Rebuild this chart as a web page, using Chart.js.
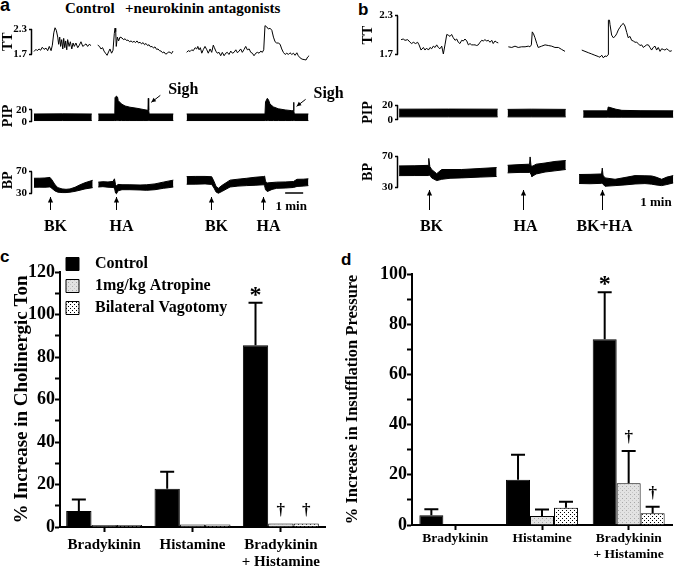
<!DOCTYPE html>
<html>
<head>
<meta charset="utf-8">
<script src="https://cdn.jsdelivr.net/npm/chart.js@4.4.1/dist/chart.umd.min.js"></script>
<style>
  body { margin: 0; background: #fff; }
  #fig { position: relative; width: 675px; height: 567px; overflow: hidden; font-family: "Liberation Serif", serif; font-weight: bold; color: #000; }
  #fig canvas { position: absolute; }
  .lbl { position: absolute; white-space: nowrap; line-height: 1; }
  .panel { font-family: "Liberation Sans", Arial, sans-serif; font-size: 17px; }
</style>
</head>
<body>
<div id="fig">
  <div class="lbl panel" style="left:0px;top:-4px;font-size:18px;">a</div>
  <div class="lbl panel" style="left:358px;top:1px;">b</div>
  <div class="lbl panel" style="left:0px;top:248px;">c</div>
  <div class="lbl panel" style="left:341px;top:251px;">d</div>
  <div class="lbl" style="left:65px;top:1px;font-size:15px;">Control</div>
  <div class="lbl" style="left:125px;top:1px;font-size:15px;">+neurokinin antagonists</div>

  <canvas id="ttA" width="310" height="56" style="left:0px;top:14px"></canvas>
  <canvas id="pipA" width="350" height="56" style="left:0px;top:78px"></canvas>
  <canvas id="bpA" width="310" height="95" style="left:0px;top:150px"></canvas>
  <canvas id="ttB" width="315" height="70" style="left:360px;top:0px"></canvas>
  <canvas id="pipB" width="315" height="40" style="left:360px;top:92px"></canvas>
  <canvas id="bpB" width="315" height="105" style="left:360px;top:140px"></canvas>
  <canvas id="chartC" width="338" height="317" style="left:0px;top:250px"></canvas>
  <canvas id="chartD" width="337" height="317" style="left:338px;top:250px"></canvas>
</div>
<script>
// ---- traces, time in minutes ----
// TT: [t, value]
const ttA = [
  [[0.11,1.77],[0.22,1.82],[0.29,1.79],[0.39,1.83],[0.48,1.80],[0.57,1.87],[0.67,1.82],[0.78,1.85],[0.87,1.79],[0.96,1.89],[1.06,1.79],[1.13,1.92],[1.21,2.21],[1.28,2.33],[1.35,2.27],[1.43,2.11],[1.48,1.94],[1.54,2.11],[1.59,1.89],[1.65,2.05],[1.71,1.83],[1.76,2.08],[1.82,1.86],[1.87,2.02],[1.93,1.81],[1.98,2.05],[2.06,1.89],[2.13,2.00],[2.21,1.83],[2.28,1.97],[2.35,1.89],[2.44,1.97],[2.54,1.86],[2.63,1.92],[2.72,2.00],[2.82,1.89],[2.91,1.92],[3.00,1.95],[3.09,1.89],[3.18,1.94],[3.28,1.91]],
  [[3.65,1.92],[3.75,1.89],[3.83,1.83],[3.92,1.86],[4.00,1.78],[4.08,1.73],[4.17,1.68],[4.25,1.76],[4.33,1.83],[4.42,1.73],[4.50,1.80],[4.57,2.19],[4.61,2.32],[4.65,2.24],[4.68,1.89],[4.74,2.11],[4.81,2.02],[4.89,2.11],[5.00,2.09],[5.08,2.05],[5.17,2.07],[5.25,2.03],[5.33,2.04],[5.42,2.00],[5.50,2.02],[5.58,1.99],[5.67,2.01],[5.75,1.98],[5.83,2.02],[5.92,1.97],[6.00,1.99],[6.08,1.95],[6.17,1.98],[6.25,1.93],[6.33,1.96],[6.42,1.91],[6.50,1.93],[6.58,1.88],[6.67,1.89],[6.75,1.85],[6.83,1.88],[6.92,1.82],[7.00,1.83],[7.08,1.79],[7.17,1.78],[7.25,1.74],[7.33,1.76],[7.42,1.71],[7.50,1.72],[7.58,1.76],[7.67,1.75],[7.75,1.72],[7.83,1.78]],
  [[8.59,1.75],[8.68,1.79],[8.78,1.77],[8.87,1.81],[8.96,1.79],[9.06,1.86],[9.15,1.83],[9.21,1.89],[9.28,1.81],[9.35,1.86],[9.43,1.73],[9.52,1.82],[9.61,1.89],[9.71,1.81],[9.79,1.73],[9.89,1.83],[9.98,1.75],[10.07,1.92],[10.13,1.86],[10.21,1.78],[10.29,1.73],[10.39,1.75],[10.48,1.67],[10.57,1.75],[10.67,1.67],[10.76,1.73],[10.85,1.75],[10.94,1.70],[11.04,1.78],[11.13,1.73],[11.22,1.75],[11.32,1.81],[11.41,1.74],[11.50,1.78],[11.59,1.83],[11.68,1.75],[11.78,1.82],[11.87,1.89],[11.96,1.81],[12.06,1.83],[12.15,1.75],[12.24,1.73],[12.33,1.67],[12.43,1.73],[12.52,1.75],[12.61,1.73],[12.71,1.78],[12.79,1.75],[12.87,1.81],[12.94,2.38],[13.04,2.35],[13.13,2.30],[13.22,2.32],[13.32,2.27],[13.41,2.11],[13.50,2.00],[13.59,1.97],[13.68,1.97],[13.78,1.94],[13.87,1.83],[13.96,1.75],[14.06,1.70],[14.15,1.73],[14.24,1.70],[14.33,1.74],[14.43,1.70],[14.52,1.73],[14.61,1.68],[14.71,1.74],[14.79,1.67],[14.89,1.62],[15.00,1.59],[15.11,1.58],[15.22,1.57],[15.31,1.64],[15.39,1.67]]
];
const ttB = [
  [[0.17,1.93],[0.29,1.94],[0.39,1.92],[0.54,1.93],[0.67,1.89],[0.76,1.87],[0.85,1.89],[0.98,1.87],[1.09,1.89],[1.17,1.85],[1.28,1.77],[1.41,1.81],[1.50,1.77],[1.59,1.80],[1.69,1.77],[1.78,1.81],[1.87,1.79],[1.96,1.83],[2.06,1.81],[2.15,1.85],[2.24,1.81],[2.33,1.79],[2.43,1.83],[2.52,1.71],[2.61,1.85],[2.71,2.01],[2.79,2.00],[2.89,1.98],[2.98,2.01],[3.07,1.96],[3.17,1.92],[3.26,1.94],[3.35,1.89],[3.44,1.87],[3.54,1.92],[3.63,1.91],[3.72,1.94],[3.82,1.91],[3.91,1.85],[4.00,1.87],[4.09,1.85],[4.18,1.85],[4.28,1.85],[4.37,1.84],[4.46,1.85],[4.56,1.89],[4.65,1.92],[4.74,1.91],[4.83,1.93],[4.93,1.91],[5.02,1.92],[5.11,1.89],[5.21,1.92],[5.29,1.87],[5.39,1.91],[5.48,1.89],[5.57,1.88]],
  [[6.13,1.82],[6.32,1.81],[6.50,1.83],[6.68,1.81],[6.87,1.82],[7.06,1.82],[7.24,1.83],[7.33,1.82],[7.41,1.85],[7.46,2.05],[7.53,2.02],[7.61,1.96],[7.71,1.87],[7.79,1.81],[7.98,1.83],[8.17,1.85],[8.35,1.84],[8.54,1.83],[8.72,1.81],[8.91,1.81],[9.09,1.78],[9.28,1.75]],
  [[10.21,1.77],[10.39,1.75],[10.57,1.73],[10.76,1.71],[10.94,1.69],[11.13,1.67],[11.22,1.66],[11.32,1.69],[11.41,1.65],[11.50,1.68],[11.59,1.67],[11.67,1.70],[11.69,2.23],[11.75,2.23],[11.78,2.16],[11.87,2.00],[11.96,1.96],[12.06,1.98],[12.15,2.02],[12.24,2.08],[12.33,2.12],[12.43,2.16],[12.52,2.18],[12.61,2.14],[12.71,2.04],[12.79,1.96],[12.89,1.98],[12.98,1.92],[13.07,1.91],[13.17,1.89],[13.26,1.89],[13.35,1.87],[13.44,1.84],[13.54,1.85],[13.63,1.81],[13.72,1.83],[13.82,1.85],[13.91,1.85],[14.00,1.81],[14.09,1.77],[14.18,1.81],[14.28,1.83],[14.37,1.77],[14.46,1.81],[14.56,1.75],[14.65,1.79],[14.74,1.78],[14.83,1.77],[14.93,1.79],[15.02,1.77],[15.11,1.75],[15.21,1.76]]
];
// PIP and BP bands: [t, low, high]
const pipA = [
  [[0.11,2.3,13.1],[1.70,2.3,13.3],[3.32,2.3,13.1]],
  [[3.68,2.3,13.1],[4.60,2.3,13.1],[4.61,2.3,40.0],[4.69,2.3,42.6],[4.75,2.3,41.0],[4.79,2.3,35.1],[4.98,2.3,29.4],[5.17,2.3,26.3],[5.44,2.3,24.3],[5.83,2.3,22.5],[6.17,2.3,20.6],[6.44,2.3,19.1],[6.46,2.3,38.9],[6.48,2.3,19.0],[6.51,2.3,13.1],[7.85,2.3,13.1]],
  [[8.59,2.3,13.1],[12.94,2.3,13.1],[12.97,2.3,33.0],[13.07,2.3,38.9],[13.14,2.3,36.0],[13.22,2.3,29.4],[13.41,2.3,24.8],[13.68,2.3,21.7],[14.06,2.3,19.8],[14.43,2.3,18.6],[14.52,2.3,18.4],[14.53,2.3,32.3],[14.55,2.3,18.2],[14.57,2.3,13.1],[15.35,2.3,13.1]]
];
const bpA = [
  [[0.11,41.4,57.7],[0.44,41.6,57.8],[0.72,41.4,58.2],[1.00,42.1,59.2],[1.11,39.2,54.7],[1.28,34.7,45.9],[1.44,32.5,40.7],[1.67,31.8,38.4],[1.89,31.8,37.7],[2.11,32.5,38.4],[2.39,34.0,41.4],[2.67,36.2,45.9],[2.94,38.4,49.6],[3.37,40.7,54.0]],
  [[3.68,41.9,50.7],[3.94,42.5,51.5],[4.22,41.5,51.0],[4.50,41.0,52.0],[4.58,40.0,56.7],[4.64,31.0,46.0],[4.69,29.6,44.0],[4.78,35.0,46.5],[5.00,37.0,46.0],[5.44,37.0,45.9],[6.00,36.5,45.5],[6.37,35.9,45.9],[6.83,37.0,47.5],[7.29,39.5,50.7],[7.56,40.5,52.5],[7.85,41.9,54.3]],
  [[8.59,46.9,60.7],[9.06,47.0,61.0],[9.61,47.5,61.0],[9.98,46.5,60.5],[10.11,40.0,52.0],[10.22,33.0,43.0],[10.35,30.6,39.5],[10.56,34.0,45.0],[11.00,41.9,54.3],[11.44,43.5,56.0],[11.93,44.4,57.7],[12.39,45.0,59.5],[12.85,45.9,60.7],[12.92,44.0,61.5],[12.97,37.0,51.8],[13.07,33.6,49.3],[13.33,37.5,50.0],[13.59,39.5,50.7],[14.06,40.0,51.0],[14.52,41.0,51.8],[14.72,42.9,55.8],[15.06,43.5,56.0],[15.35,44.4,56.7]]
];
const pipB = [
  [[0.06,4.2,14.6],[2.80,4.2,14.7],[5.54,4.2,14.6]],
  [[6.09,4.2,14.3],[7.40,4.2,14.6],[9.32,4.2,14.3]],
  [[10.29,3.8,12.3],[11.64,3.8,12.3],[11.68,3.8,17.5],[11.89,3.8,16.0],[12.11,3.8,14.5],[12.44,3.8,13.0],[13.50,3.8,12.5],[15.29,3.8,12.3]]
];
const bpB = [
  [[0.06,45.4,57.8],[0.94,45.5,58.0],[1.67,45.5,58.5],[1.71,46.0,67.4],[1.77,46.0,57.0],[1.87,42.5,53.2],[2.15,39.0,47.9],[2.43,40.7,53.2],[2.89,42.0,53.2],[3.54,42.5,53.2],[4.56,43.5,54.5],[5.48,44.3,55.7]],
  [[6.09,48.9,58.6],[6.78,49.5,59.5],[7.31,49.5,60.0],[7.34,49.0,69.3],[7.39,47.0,58.0],[7.44,44.3,57.0],[7.68,47.5,60.0],[8.17,50.0,61.5],[8.72,51.5,63.5],[9.32,53.2,64.7]],
  [[10.06,35.3,46.8],[10.67,35.0,47.0],[11.31,35.5,47.5],[11.35,36.0,55.0],[11.39,34.5,46.0],[11.50,31.8,42.5],[12.06,32.6,40.7],[12.61,33.5,43.0],[13.17,34.7,45.4],[13.72,35.2,45.2],[14.09,34.5,45.0],[14.33,33.5,43.5],[14.65,32.6,40.7],[14.94,34.0,43.5],[15.29,36.0,45.4]]
];
// drug applications [t, label], sighs [t, PIP], time scale
const eventsA = [[1.00,'BK'],[4.67,'HA'],[9.94,'BK'],[12.83,'HA']];
const eventsB = [[1.72,'BK'],[6.94,'HA'],[11.33,'BK+HA']];
const sighsA = [[6.46,38.9],[14.53,32.3]];
const scaleBarA = [14.06, 1];
const minLabelB = 14.33;

// ---- bar panels ----
const groups = ['Bradykinin', 'Histamine', ['Bradykinin', '+ Histamine']];
const seriesNames = ['Control', '1mg/kg Atropine', 'Bilateral Vagotomy'];
const cControl = [7.5, 18, 85.5];
const cControlErr = [5.5, 8, 20];
const cAtropine = [1, 1.2, 1.6];
const cAtropineErr = [0, 0, 0];
const cVagotomy = [1, 1.2, 1.6];
const cVagotomyErr = [0, 0, 0];
const cMarks = [['', '', '*'], ['', '', '†'], ['', '', '†']];
const dControl = [3.9, 18, 74];
const dControlErr = [2.4, 10, 18.7];
const dAtropine = [0, 3.6, 16.6];
const dAtropineErr = [0, 2.6, 12.9];
const dVagotomy = [0, 6.9, 4.7];
const dVagotomyErr = [0, 2.4, 2.6];
const dMarks = [['', '', '*'], ['', '', '†'], ['', '', '†']];

const serif = '"Liberation Serif", "Times New Roman", serif';

function arrow(ctx, x1, y1, x2, y2, head) {
  const a = Math.atan2(y2 - y1, x2 - x1);
  ctx.beginPath(); ctx.moveTo(x1, y1); ctx.lineTo(x2, y2); ctx.stroke();
  ctx.beginPath();
  ctx.moveTo(x2, y2);
  ctx.lineTo(x2 - head * Math.cos(a - 0.45), y2 - head * Math.sin(a - 0.45));
  ctx.lineTo(x2 - head * Math.cos(a + 0.45), y2 - head * Math.sin(a + 0.45));
  ctx.closePath(); ctx.fill();
}

// y range so that lo/hi land on the given pixel rows of the canvas
function rangeFor(lo, hi, yLo, yHi, top, h) {
  const upp = (hi - lo) / (yLo - yHi);
  return { min: lo - (top + h - yLo) * upp, max: hi + (yHi - top) * upp };
}

function bracket(lo, hi, title, titleX, align) {
  return {
    id: 'bracket',
    afterDraw(chart) {
      const { ctx, chartArea, scales: { y } } = chart;
      const y1 = y.getPixelForValue(hi), y2 = y.getPixelForValue(lo);
      ctx.save();
      ctx.strokeStyle = '#000'; ctx.lineWidth = 1.5;
      ctx.beginPath(); ctx.moveTo(chartArea.left - 0.5, y1); ctx.lineTo(chartArea.left - 0.5, y2); ctx.stroke();
      ctx.translate(titleX, align === 'top' ? y1 : (y1 + y2) / 2);
      ctx.rotate(-Math.PI / 2);
      ctx.font = 'bold 14px ' + serif; ctx.fillStyle = '#000';
      ctx.textAlign = align === 'top' ? 'right' : 'center'; ctx.textBaseline = 'middle';
      ctx.fillText(title, 0, 0);
      ctx.restore();
    }
  };
}

function eventMarks(events, o) {
  return {
    id: 'events',
    afterDraw(chart) {
      const { ctx, scales: { x } } = chart;
      ctx.save();
      ctx.strokeStyle = '#000'; ctx.fillStyle = '#000'; ctx.lineWidth = 1;
      ctx.font = 'bold 16px ' + serif; ctx.textAlign = 'center'; ctx.textBaseline = 'middle';
      events.forEach(([t, label]) => {
        const px = Math.round(x.getPixelForValue(t)) + 0.5;
        arrow(ctx, px, o.arrowBottom, px, o.arrowTop, 6);
        ctx.fillText(label, px + o.labelDx, o.labelY);
      });
      ctx.font = 'bold 13px ' + serif;
      if (o.bar) {
        const x1 = x.getPixelForValue(o.bar[0]), x2 = x.getPixelForValue(o.bar[0] + o.bar[1]);
        ctx.lineWidth = 1.5;
        ctx.beginPath(); ctx.moveTo(x1, o.barY); ctx.lineTo(x2, o.barY); ctx.stroke();
        ctx.fillText('1 min', (x1 + x2) / 2 - 3, o.minY);
      } else {
        ctx.fillText('1 min', x.getPixelForValue(o.minAt), o.minY);
      }
      ctx.restore();
    }
  };
}

const sighMarks = {
  id: 'sighs',
  afterDraw(chart) {
    const { ctx, scales: { x, y } } = chart;
    ctx.save();
    ctx.strokeStyle = '#000'; ctx.fillStyle = '#000'; ctx.lineWidth = 1;
    ctx.font = 'bold 16px ' + serif; ctx.textAlign = 'center'; ctx.textBaseline = 'middle';
    sighsA.forEach(([t, v]) => {
      const px = x.getPixelForValue(t), py = y.getPixelForValue(v);
      arrow(ctx, px + 12, py - 3, px + 3, py + 4, 5);
      ctx.fillText('Sigh', px + 35, py - 8);
    });
    ctx.restore();
  }
};

function lineSets(segs) {
  return segs.map(s => ({ data: s, borderColor: '#000', borderWidth: 1, fill: false }));
}
function bandSets(segs) {
  return segs.flatMap(s => [
    { data: s.map(p => [p[0], p[1]]), borderColor: '#000', borderWidth: 1, fill: false },
    { data: s.map(p => [p[0], p[2]]), borderColor: '#000', borderWidth: 1, backgroundColor: '#000', fill: '-1' }
  ]);
}

function trace(id, datasets, o, plugins) {
  const r = rangeFor(o.lo, o.hi, o.yLo, o.yHi, o.top, o.h);
  return new Chart(document.getElementById(id), {
    type: 'line',
    data: { datasets },
    options: {
      responsive: false, animation: false, events: [],
      layout: { autoPadding: false, padding: { left: 0, top: 0, bottom: 0, right: o.padRight || 0 } },
      elements: { point: { radius: 0 }, line: { tension: 0 } },
      plugins: { legend: { display: false }, tooltip: { enabled: false } },
      scales: {
        x: { type: 'linear', display: false, min: 0, max: o.xMax },
        y: {
          type: 'linear', min: r.min, max: r.max,
          afterFit: s => { s.width = o.axisW; },
          afterBuildTicks: s => { s.ticks = [{ value: o.lo }, { value: o.hi }]; },
          border: { display: false },
          grid: { drawOnChartArea: false, drawTicks: true, tickLength: 3, tickWidth: 1.5, color: '#000' },
          ticks: { color: '#000', padding: 2, autoSkip: false, font: { family: serif, weight: 'bold', size: 11 },
                   callback: v => (o.dec ? v.toFixed(1) : String(Math.round(v))) }
        }
      }
    },
    plugins: [bracket(o.lo, o.hi, o.title, o.titleX, o.align)].concat(plugins || [])
  });
}

// panel a
trace('ttA', lineSets(ttA), { lo: 1.7, hi: 2.3, yLo: 60, yHi: 23.3, top: 14, h: 56, xMax: 15.44, axisW: 32, title: 'TT', titleX: 8, dec: true });
trace('pipA', bandSets(pipA), { lo: 0, hi: 20, yLo: 129, yHi: 111.5, top: 78, h: 56, xMax: 15.44, axisW: 32, padRight: 40, title: 'PIP', titleX: 8 }, [sighMarks]);
trace('bpA', bandSets(bpA), { lo: 30, hi: 70, yLo: 192.7, yHi: 165.7, top: 150, h: 95, xMax: 15.44, axisW: 32, title: 'BP', titleX: 8, align: 'top' },
  [eventMarks(eventsA, { arrowTop: 47, arrowBottom: 60, labelY: 77, labelDx: 5, bar: scaleBarA, barY: 43, minY: 57 })]);
// panel b
trace('ttB', lineSets(ttB), { lo: 1.7, hi: 2.3, yLo: 61, yHi: 9.3, top: 0, h: 70, xMax: 15.39, axisW: 38, title: 'TT', titleX: 8, dec: true });
trace('pipB', bandSets(pipB), { lo: 0, hi: 20, yLo: 126, yHi: 100, top: 92, h: 40, xMax: 15.39, axisW: 38, title: 'PIP', titleX: 8 });
trace('bpB', bandSets(bpB), { lo: 30, hi: 70, yLo: 186.7, yHi: 149.3, top: 140, h: 105, xMax: 15.39, axisW: 38, title: 'BP', titleX: 8 },
  [eventMarks(eventsB, { arrowTop: 50, arrowBottom: 70, labelY: 87, labelDx: 2, bar: null, minAt: minLabelB, minY: 63 })]);

// ---- bar charts ----
function pattern(bg, dots, size) {
  const c = document.createElement('canvas');
  c.width = c.height = size;
  const g = c.getContext('2d');
  g.fillStyle = bg; g.fillRect(0, 0, size, size);
  dots.forEach(([x, y, col]) => { g.fillStyle = col; g.fillRect(x, y, 1, 1); });
  return g.createPattern(c, 'repeat');
}
const atropineFill = pattern('#e2e2e2', [[0, 0, '#a8a8a8'], [2, 2, '#c4c4c4']], 4);
const vagotomyFill = pattern('#ffffff', [[0, 0, '#000'], [2, 2, '#000']], 4);

const errorBars = {
  id: 'errorBars',
  afterDatasetsDraw(chart) {
    const { ctx, scales: { y } } = chart;
    chart.data.datasets.forEach((ds, i) => {
      chart.getDatasetMeta(i).data.forEach((bar, j) => {
        let top = bar.y;
        ctx.save();
        ctx.strokeStyle = '#000'; ctx.fillStyle = '#000'; ctx.lineWidth = 2;
        if (ds.errors[j] > 0) {
          const ye = y.getPixelForValue(ds.data[j] + ds.errors[j]);
          ctx.beginPath();
          ctx.moveTo(bar.x, bar.y); ctx.lineTo(bar.x, ye);
          ctx.moveTo(bar.x - 7, ye); ctx.lineTo(bar.x + 7, ye);
          ctx.stroke();
          top = ye;
        }
        const m = ds.marks[j];
        if (m) {
          ctx.textAlign = 'center'; ctx.textBaseline = 'alphabetic';
          if (m === '*') { ctx.font = 'bold 24px ' + serif; ctx.fillText(m, bar.x, top - 1); }
          else { ctx.font = 'bold 17px ' + serif; ctx.fillText(m, bar.x, top - 9); }
        }
        ctx.restore();
      });
    });
  }
};

function barChart(id, values, errors, marks, o) {
  const fills = ['#000', atropineFill, vagotomyFill];
  const datasets = seriesNames.map((name, i) => ({
    label: name, data: values[i], errors: errors[i], marks: marks[i],
    backgroundColor: fills[i], borderColor: '#000', borderWidth: 1
  }));
  const font = size => ({ family: serif, weight: 'bold', size });
  return new Chart(document.getElementById(id), {
    type: 'bar',
    data: { labels: groups, datasets },
    options: {
      responsive: false, animation: false, events: [],
      layout: { autoPadding: false, padding: o.pad },
      datasets: { bar: { categoryPercentage: o.cat, barPercentage: 1 } },
      plugins: {
        tooltip: { enabled: false },
        legend: {
          display: o.legend, position: 'chartArea', align: 'start',
          labels: {
            boxWidth: 13, boxHeight: 13, padding: 6, color: '#000', font: font(16),
            generateLabels: chart => Chart.defaults.plugins.legend.labels.generateLabels(chart)
              .map(l => Object.assign(l, { text: '\u2002' + l.text }))
          }
        }
      },
      scales: {
        x: {
          afterFit: s => { s.height = o.xH; },
          border: { display: true, color: '#000', width: 2 },
          grid: { offset: false, drawOnChartArea: false, drawTicks: true, tickLength: 5, tickWidth: 2, color: '#000' },
          ticks: { color: '#000', padding: o.xPad, autoSkip: false, maxRotation: 0, font: Object.assign(font(o.xFont), { lineHeight: 1.15 }) }
        },
        y: {
          min: 0, max: o.yMax,
          afterFit: s => { s.width = o.yW; },
          border: { display: true, color: '#000', width: 2 },
          grid: { drawOnChartArea: false, drawTicks: true, tickLength: 5, tickWidth: 2, color: '#000' },
          ticks: { stepSize: 10, autoSkip: false, padding: 0, color: '#000', font: font(18), callback: v => (v % 20 === 0 ? v : '') },
          title: { display: true, text: o.title, color: '#000', padding: { top: o.tPad, bottom: 0 }, font: font(o.tFont) }
        }
      }
    },
    plugins: [errorBars]
  });
}

barChart('chartC', [cControl, cAtropine, cVagotomy], [cControlErr, cAtropineErr, cVagotomyErr], cMarks, {
  pad: { left: 0, top: 22, right: 13, bottom: 0 }, cat: 0.86, xH: 40, xPad: 4, xFont: 15, yMax: 120, yW: 60,
  title: '% Increase in Cholinergic Ton', tPad: 11, tFont: 19, legend: true
});
barChart('chartD', [dControl, dAtropine, dVagotomy], [dControlErr, dAtropineErr, dVagotomyErr], dMarks, {
  pad: { left: 0, top: 24, right: 3, bottom: 0 }, cat: 0.83, xH: 42, xPad: 1, xFont: 13.5, yMax: 100, yW: 74,
  title: '% Increase in Insufflation Pressure', tPad: 5, tFont: 16.5, legend: false
});
</script>
</body>
</html>
